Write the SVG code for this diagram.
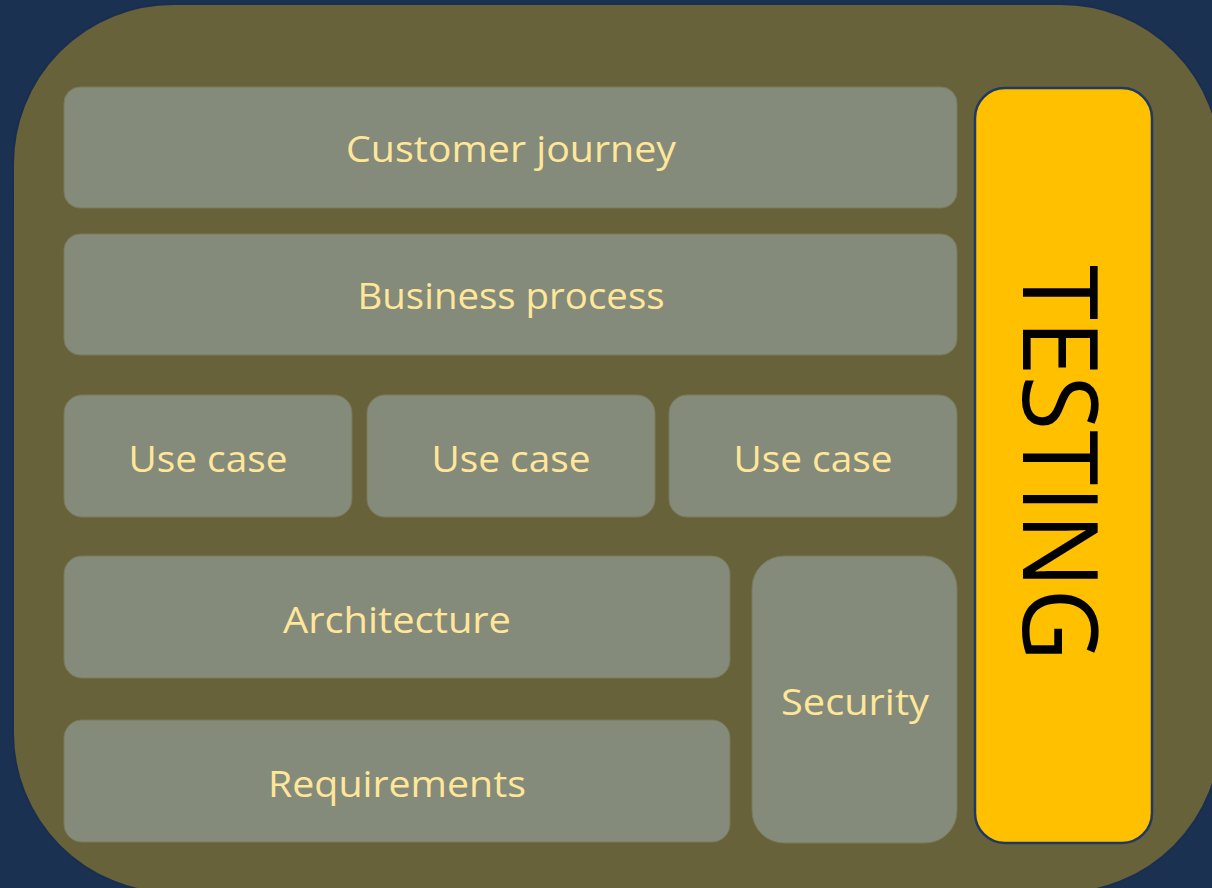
<svg xmlns="http://www.w3.org/2000/svg" width="1212" height="888" viewBox="0 0 1212 888">
<style>
.box{fill:#848b7a;stroke:#7a7a5a;stroke-width:1}
.lbl{font-family:"Open Sans","Noto Sans","Liberation Sans",sans-serif;font-size:37px;fill:#ffe699;text-anchor:middle}
.vt{font-family:"Open Sans","Noto Sans","Liberation Sans",sans-serif;font-size:104px;font-weight:400;fill:#000;text-anchor:middle}
</style>
<rect x="0" y="0" width="1212" height="888" fill="#1b3152"/>
<g id="frame">
<rect x="13" y="4" width="1208" height="889" rx="160" ry="160" fill="#676239" stroke="#1a2e50" stroke-width="2"/>
</g>
<g id="customer-journey">
<rect class="box" x="64" y="87" width="893" height="121" rx="16"/>
<text class="lbl" x="511" y="162" textLength="330" lengthAdjust="spacingAndGlyphs">Customer journey</text>
</g>
<g id="business-process">
<rect class="box" x="64" y="234" width="893" height="121" rx="16"/>
<text class="lbl" x="511" y="309" textLength="307" lengthAdjust="spacingAndGlyphs">Business process</text>
</g>
<g id="use-case-1">
<rect class="box" x="64" y="395" width="288" height="122" rx="18"/>
<text class="lbl" x="208" y="472" textLength="159" lengthAdjust="spacingAndGlyphs">Use case</text>
</g>
<g id="use-case-2">
<rect class="box" x="367" y="395" width="288" height="122" rx="18"/>
<text class="lbl" x="511" y="472" textLength="159" lengthAdjust="spacingAndGlyphs">Use case</text>
</g>
<g id="use-case-3">
<rect class="box" x="669" y="395" width="288" height="122" rx="18"/>
<text class="lbl" x="813" y="472" textLength="159" lengthAdjust="spacingAndGlyphs">Use case</text>
</g>
<g id="architecture">
<rect class="box" x="64" y="556" width="666" height="122" rx="18"/>
<text class="lbl" x="397" y="633" textLength="228" lengthAdjust="spacingAndGlyphs">Architecture</text>
</g>
<g id="requirements">
<rect class="box" x="64" y="720" width="666" height="122" rx="18"/>
<text class="lbl" x="397" y="797" textLength="258" lengthAdjust="spacingAndGlyphs">Requirements</text>
</g>
<g id="security">
<rect class="box" x="752" y="556" width="205" height="287" rx="32"/>
<text class="lbl" x="855" y="715" textLength="148" lengthAdjust="spacingAndGlyphs">Security</text>
</g>
<g id="testing">
<rect x="975" y="88" width="177" height="755" rx="30" fill="#ffc000" stroke="#1f3864" stroke-width="2.5"/>
<text class="vt" transform="translate(1023,463) rotate(90)" x="0" y="0" textLength="396" lengthAdjust="spacingAndGlyphs">TESTING</text>
</g>
<g id="connectors"></g>
</svg>
